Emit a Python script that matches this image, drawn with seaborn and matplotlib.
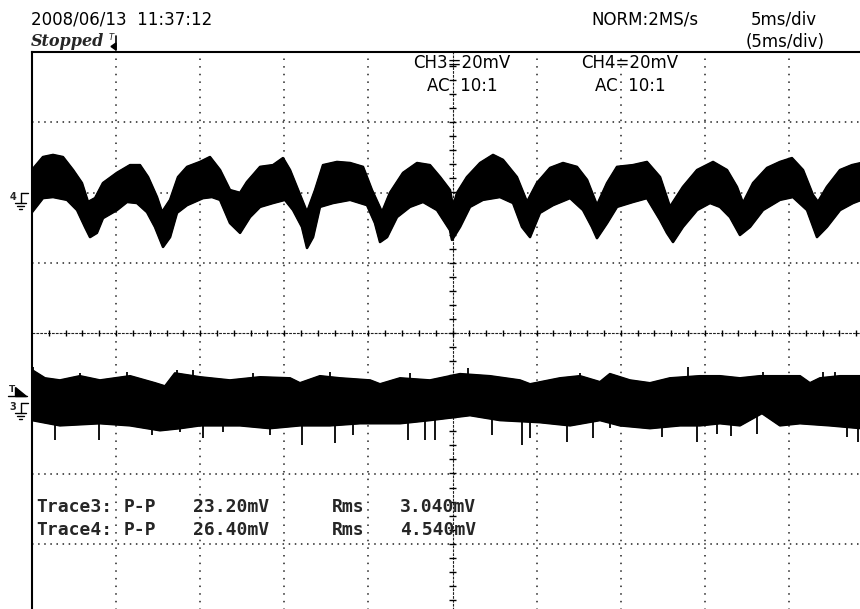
import numpy as np
import matplotlib
matplotlib.use("Agg")
import matplotlib.pyplot as plt
import seaborn as sns
from matplotlib.lines import Line2D
from matplotlib.patches import Polygon

# screen: 10 div x 8 div, 5 ms/div, 20 mV/div
MS_PER_DIV = 5
MV_PER_DIV = 20
ch4_offset_div = 2.0
ch3_offset_div = -1.0

# CH4 envelope (ms, mV)
ch4_top_t = [0.0, 0.65, 1.25, 1.84, 2.44, 2.97, 3.33, 3.75, 4.22, 5.05, 5.83, 6.42, 6.90, 7.43, 7.73, 8.21,
             8.68, 9.22, 9.99, 10.58, 11.18, 11.77, 12.37, 12.78, 13.56, 14.33, 14.92, 15.34, 15.82, 16.35,
             16.83, 17.30, 18.13, 18.91, 19.68, 20.21, 20.81, 21.28, 22.06, 22.89, 23.66, 24.26, 24.85, 25.03,
             25.27, 25.86, 26.64, 27.41, 28.00, 28.83, 29.43, 30.02, 30.80, 31.57, 32.40, 33.00, 33.59, 34.19,
             34.78, 35.73, 36.56, 37.34, 37.93, 38.70, 39.54, 40.49, 41.32, 41.91, 42.27, 42.87, 43.70, 44.47,
             45.18, 45.84, 46.43, 46.73, 47.26, 48.04, 48.75, 49.30]
ch4_top_mv = [6.4, 10.1, 10.7, 10.1, 6.4, 2.7, -2.7, -1.6, 2.7, 5.6, 7.8, 7.8, 4.4, -1.3, -5.6, -2.1,
              4.4, 7.3, 8.7, 10.1, 6.4, 0.7, -0.1, 3.0, 7.3, 7.8, 9.8, 6.4, 0.7, -5.6,
              0.7, 7.8, 8.7, 8.4, 7.3, 0.7, -5.6, -0.1, 5.6, 8.4, 7.8, 4.4, 0.7, -4.1,
              -0.1, 4.4, 8.4, 10.7, 9.3, 4.4, -2.7, 2.7, 7.0, 8.4, 7.3, 3.6, -3.6, 2.7,
              7.3, 7.8, 8.7, 4.4, -4.1, 1.6, 6.4, 8.7, 6.4, 1.6, -3.0, 2.7, 7.0, 8.7,
              9.8, 6.4, -0.7, -2.7, 1.6, 6.4, 7.8, 8.4]
ch4_bot_t = [0.0, 0.65, 1.25, 2.08, 2.68, 3.15, 3.45, 3.86, 4.22, 5.05, 5.65, 6.24, 6.84, 7.31, 7.79, 8.21,
             8.62, 9.22, 10.17, 10.70, 11.18, 11.77, 12.37, 12.96, 13.56, 14.33, 15.04, 15.52, 16.05, 16.35,
             16.71, 17.12, 17.90, 18.91, 19.92, 20.39, 20.69, 21.11, 21.70, 22.47, 23.25, 24.08, 24.85, 24.97,
             25.45, 26.04, 26.81, 27.82, 28.60, 29.13, 29.61, 30.20, 30.98, 31.99, 32.76, 33.29, 33.59, 34.19,
             34.78, 35.73, 36.56, 37.34, 37.75, 38.11, 38.70, 39.54, 40.31, 40.90, 41.50, 42.09, 42.69, 43.46,
             44.47, 45.24, 46.08, 46.67, 47.26, 48.04, 48.81, 49.30]
ch4_bot_mv = [-5.6, -1.6, -1.3, -2.1, -5.0, -9.8, -12.7, -11.5, -7.3, -5.0, -2.7, -3.0, -5.6, -9.8, -15.5, -12.7,
              -5.8, -3.6, -1.6, -1.3, -2.1, -8.7, -11.5, -7.0, -4.1, -3.0, -2.1, -5.0, -9.8, -15.8,
              -12.7, -4.1, -3.0, -2.1, -3.6, -8.7, -14.1, -12.7, -7.0, -4.1, -2.7, -5.0, -10.7, -13.5,
              -9.8, -4.1, -2.1, -1.3, -3.0, -9.8, -12.7, -5.8, -3.6, -1.6, -5.0, -9.8, -13.0, -8.7,
              -4.1, -2.7, -1.6, -7.8, -11.5, -14.1, -9.8, -5.0, -3.0, -4.1, -7.0, -12.1, -9.8, -5.0,
              -2.1, -1.3, -5.0, -12.7, -9.8, -5.0, -3.0, -2.1]

# CH3 envelope + the spikes sticking out of it
ch3_top_t = [0.0, 0.77, 1.66, 2.85, 4.04, 5.83, 7.31, 7.91, 8.50, 9.99, 11.77, 13.56, 15.34, 15.93, 17.12,
             18.31, 20.10, 20.69, 21.88, 23.66, 25.45, 27.23, 29.01, 29.61, 31.39, 32.58, 33.77, 34.36,
             35.55, 36.74, 37.93, 39.71, 40.90, 42.09, 43.28, 44.47, 45.66, 46.25, 46.85, 48.04, 49.30]
ch3_top_mv = [9.4, 7.1, 6.5, 7.7, 6.5, 7.7, 5.7, 4.8, 8.5, 7.4, 6.5, 7.4, 7.1, 5.7, 7.7,
              7.1, 6.5, 5.4, 7.1, 6.5, 8.3, 7.7, 6.5, 5.4, 7.1, 7.7, 6.0, 8.3,
              6.5, 5.7, 7.1, 7.7, 7.7, 7.1, 7.7, 7.7, 7.7, 5.7, 7.1, 7.7, 7.7]
ch3_bot_t = [0.0, 1.66, 4.04, 5.83, 7.61, 8.80, 9.99, 12.37, 14.15, 15.93, 17.72, 19.50, 21.88, 23.66,
             26.04, 27.82, 30.20, 31.99, 33.77, 34.96, 36.74, 38.53, 39.71, 40.90, 42.09, 43.40, 44.47,
             45.66, 47.44, 49.30]
ch3_bot_mv = [-4.8, -6.3, -5.7, -6.3, -7.7, -7.1, -6.3, -6.3, -7.1, -6.3, -6.3, -5.7, -5.7, -4.8,
              -3.4, -4.8, -5.4, -6.3, -4.8, -6.3, -7.1, -6.3, -6.3, -5.7, -6.3, -2.8, -6.3,
              -5.7, -6.3, -7.1]
ch3_dn_t = [1.37, 3.98, 7.13, 8.80, 10.17, 11.36, 14.15, 16.05, 18.01, 19.08, 22.35, 23.37, 23.96,
            27.35, 29.13, 29.61, 31.81, 33.35, 34.36, 37.46, 39.54, 40.73, 41.56, 43.10, 48.45, 49.11]
ch3_dn_mv = [-10.5, -10.5, -9.1, -8.3, -10.0, -8.3, -9.1, -12.0, -11.4, -9.1, -10.5, -10.5, -10.5,
             -9.1, -12.0, -10.0, -11.1, -10.0, -7.1, -9.7, -11.1, -8.8, -9.4, -8.8, -9.7, -11.1]
ch3_up_t = [0.06, 2.85, 5.65, 8.62, 9.57, 13.14, 17.72, 22.47, 25.92, 32.58, 39.00, 43.46, 47.03, 47.74]
ch3_up_mv = [10.2, 8.5, 8.8, 9.4, 9.4, 8.5, 8.8, 8.5, 10.0, 8.5, 10.2, 8.8, 8.8, 8.8]

# readouts
trace_names = ["Trace3:", "Trace4:"]
pp_values = ["23.20mV", "26.40mV"]
rms_values = ["3.040mV", "4.540mV"]
timestamp = "2008/06/13  11:37:12"
ch_labels = ["CH3=20mV", "CH4=20mV"]

sns.set_style("white")
plt.rcParams["font.family"] = ["DejaVu Sans"]

W, H = 860, 609
fig = plt.figure(figsize=(W / 100, H / 100), dpi=100)
ax = fig.add_axes([32 / W, 1 - 614 / H, 841 / W, 562 / H])
ax.set_xlim(0, 10 * MS_PER_DIV)
ax.set_ylim(-4, 4)
ax.set_xticks([])
ax.set_yticks([])
for side in ["right", "bottom"]:
    ax.spines[side].set_visible(False)
for side in ["top", "left"]:
    ax.spines[side].set_color("black")
    ax.spines[side].set_linewidth(1.5)

# graticule
for k in range(1, 10):
    if k != 5:
        ax.axvline(k * MS_PER_DIV, color="#222222", lw=1.1, ls=(0, (1, 4)), zorder=1)
for k in [-3, -2, -1, 1, 2, 3]:
    ax.axhline(k, color="#222222", lw=1.1, ls=(0, (1, 3)), zorder=1)
ax.axhline(0, color="#222222", lw=0.8, ls=(0, (2.5, 1)), zorder=1)
ax.axvline(5 * MS_PER_DIV, color="#222222", lw=0.8, ls=(0, (2.5, 1)), zorder=1)
minor_x = np.arange(1, 50, 1)
ax.vlines(minor_x, -0.045, 0.045, color="black", lw=1.0, zorder=1)
minor_y = np.arange(-3.8, 4, 0.2)
ax.hlines(minor_y, 25 - 0.18, 25 + 0.18, color="black", lw=1.0, zorder=1)


def band(top_t, top_mv, bot_t, bot_mv, offset):
    top_y = offset + np.array(top_mv) / MV_PER_DIV
    bot_y = offset + np.array(bot_mv) / MV_PER_DIV
    xs = np.r_[top_t, bot_t[::-1]]
    ys = np.r_[top_y, bot_y[::-1]]
    ax.add_patch(Polygon(np.c_[xs, ys], closed=True, facecolor="black", edgecolor="black", lw=1.0, zorder=3))
    sns.lineplot(x=top_t, y=top_y, ax=ax, color="black", lw=1.8, estimator=None, sort=False, zorder=3)
    sns.lineplot(x=bot_t, y=bot_y, ax=ax, color="black", lw=1.8, estimator=None, sort=False, zorder=3)


band(ch4_top_t, ch4_top_mv, ch4_bot_t, ch4_bot_mv, ch4_offset_div)
band(ch3_top_t, ch3_top_mv, ch3_bot_t, ch3_bot_mv, ch3_offset_div)
ax.vlines(ch3_dn_t, ch3_offset_div, ch3_offset_div + np.array(ch3_dn_mv) / MV_PER_DIV,
          color="black", lw=1.3, zorder=3)
ax.vlines(ch3_up_t, ch3_offset_div, ch3_offset_div + np.array(ch3_up_mv) / MV_PER_DIV,
          color="black", lw=1.3, zorder=3)


def px(x, y):
    return x / W, 1 - y / H


def seg(x0, y0, x1, y1, lw=1.0):
    fig.add_artist(Line2D([x0 / W, x1 / W], [1 - y0 / H, 1 - y1 / H], color="black", lw=lw,
                          transform=fig.transFigure))


def ground(y, label):
    fig.text(*px(13, y + 4), label, fontsize=7, fontweight="bold", ha="center", va="center")
    seg(20.5, y, 28, y)
    seg(20.5, y, 20.5, y + 10)
    seg(15, y + 10, 26, y + 10)
    seg(17, y + 13, 24, y + 13)
    seg(19, y + 16, 22, y + 16)


ground(193, "4")
ground(403, "3")
# trigger level marker
fig.text(*px(12, 390), "T", fontsize=6.5, fontweight="bold", ha="center", va="center")
seg(8, 395.5, 27, 395.5)
fig.add_artist(Polygon([px(15, 387), px(15, 395.5), px(26, 395.5)], closed=True, color="black",
                       transform=fig.transFigure))

# header
hdr = dict(family="DejaVu Sans", fontsize=12, va="center", color="black")
fig.text(*px(31, 20), timestamp, ha="left", **hdr)
fig.text(*px(31, 42), "Stopped", ha="left", family="DejaVu Serif", fontsize=11.5,
         style="italic", fontweight="bold", va="center")
fig.text(*px(111, 37), "T", ha="center", va="center", fontsize=6, style="italic")
seg(116, 36, 116, 50, lw=1.2)
fig.add_artist(Polygon([px(116, 43), px(116, 50), px(111, 46.5)], closed=True, color="black",
                       transform=fig.transFigure))
fig.text(*px(645, 20), "NORM:2MS/s", ha="center", **hdr)
fig.text(*px(784, 20), "5ms/div", ha="center", **hdr)
fig.text(*px(785, 42), "(5ms/div)", ha="center", **hdr)
for cx, lab in zip([462, 630], ch_labels):
    fig.text(*px(cx, 63), lab, ha="center", **hdr)
    fig.text(*px(cx, 86), "AC  10:1", ha="center", **hdr)

# measurement readout
mono = dict(family="DejaVu Sans Mono", fontsize=13, fontweight="bold", va="center", ha="left")
for row, (name, pp, rms) in enumerate(zip(trace_names, pp_values, rms_values)):
    yy = 507 + row * 23
    fig.text(*px(36, yy), name, **mono)
    fig.text(*px(124, yy), "P-P", **mono)
    fig.text(*px(193, yy), pp, **mono)
    fig.text(*px(332, yy), "Rms", **mono)
    fig.text(*px(400, yy), rms, **mono)

fig.savefig("out.png", dpi=100, facecolor="white")
